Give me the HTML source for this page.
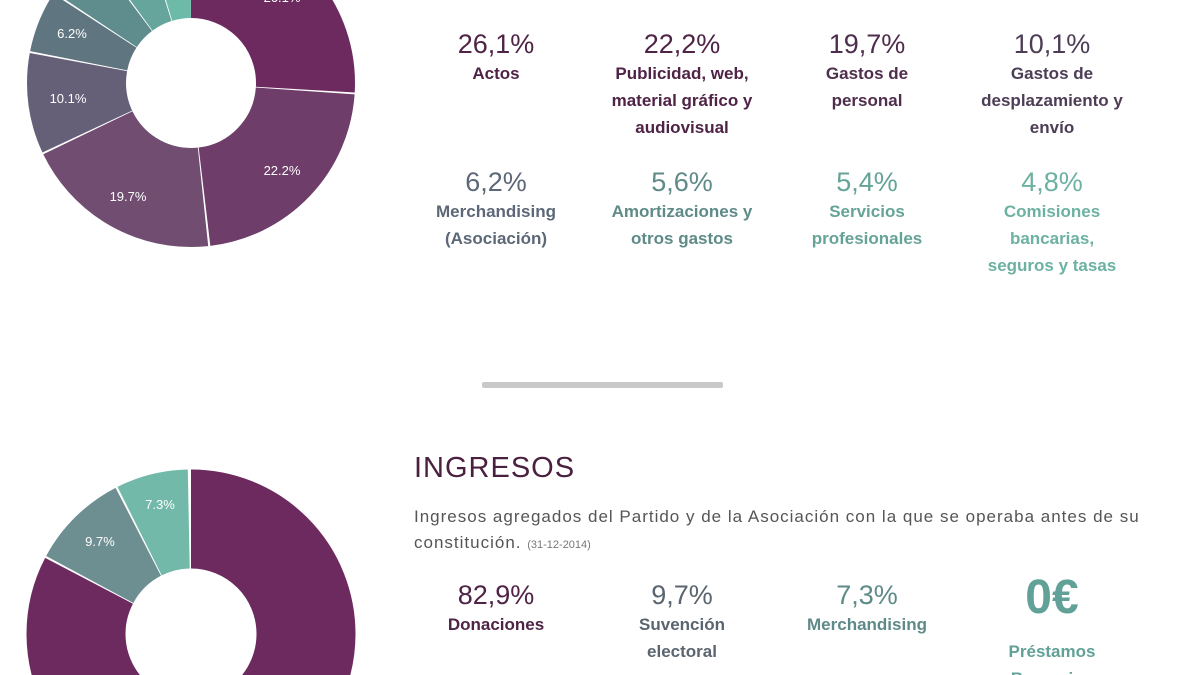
<!DOCTYPE html>
<html><head><meta charset="utf-8"><style>
html,body{margin:0;padding:0;}
body{width:1200px;height:675px;overflow:hidden;background:#fff;position:relative;font-family:"Liberation Sans",sans-serif;}
.c{position:absolute;width:200px;margin-left:-100px;text-align:center;}
.p{font-size:27px;line-height:30px;}
.l{font-size:17px;font-weight:bold;line-height:27px;margin-top:1px;}
.svgw{position:absolute;left:0;top:0;}
</style></head><body>
<svg class="svgw" width="400" height="675" viewBox="0 0 400 675">
<g transform="translate(191,83) rotate(-90)" fill="none" stroke-width="99">
<circle r="114.5" stroke="#6d2a5f" stroke-dasharray="186.5 1000" stroke-dashoffset="0"/>
<circle r="114.5" stroke="#6e3d69" stroke-dasharray="158.2 1000" stroke-dashoffset="-187.8"/>
<circle r="114.5" stroke="#704d71" stroke-dasharray="140.4 1000" stroke-dashoffset="-347.5"/>
<circle r="114.5" stroke="#655f78" stroke-dasharray="71.2 1000" stroke-dashoffset="-489.2"/>
<circle r="114.5" stroke="#5f7580" stroke-dasharray="43.3 1000" stroke-dashoffset="-561.8"/>
<circle r="114.5" stroke="#5f8c8c" stroke-dasharray="39 1000" stroke-dashoffset="-606.4"/>
<circle r="114.5" stroke="#65a59c" stroke-dasharray="37.5 1000" stroke-dashoffset="-646.7"/>
<circle r="114.5" stroke="#6dbaa8" stroke-dasharray="33.5 1000" stroke-dashoffset="-685.5"/>
</g>
<g fill="#fff" font-size="13" font-family="Liberation Sans,sans-serif" text-anchor="middle">
<text x="282" y="175">22.2%</text><text x="128" y="201">19.7%</text>
<text x="68" y="103">10.1%</text><text x="72" y="38">6.2%</text><text x="282" y="2">26.1%</text>
</g>
<g transform="translate(191,634) rotate(-90)" fill="none" stroke-width="99">
<circle r="115" stroke="#6d2a5f" stroke-dasharray="597 1000" stroke-dashoffset="0"/>
<circle r="115" stroke="#6e8f92" stroke-dasharray="69 1000" stroke-dashoffset="-598.5"/>
<circle r="115" stroke="#72b9a9" stroke-dasharray="51 1000" stroke-dashoffset="-669"/>
</g>
<g fill="#fff" font-size="13" font-family="Liberation Sans,sans-serif" text-anchor="middle">
<text x="160" y="509">7.3%</text><text x="100" y="546">9.7%</text>
</g>
</svg>

<div class="c" style="left:496px;top:29px;color:#4f2346"><div class="p">26,1%</div><div class="l">Actos</div></div>
<div class="c" style="left:682px;top:29px;color:#4f2346"><div class="p">22,2%</div><div class="l">Publicidad, web,<br>material gráfico y<br>audiovisual</div></div>
<div class="c" style="left:867px;top:29px;color:#4f2d4c"><div class="p">19,7%</div><div class="l">Gastos de<br>personal</div></div>
<div class="c" style="left:1052px;top:29px;color:#4d3d55"><div class="p">10,1%</div><div class="l">Gastos de<br>desplazamiento y<br>envío</div></div>

<div class="c" style="left:496px;top:167px;color:#5c6877"><div class="p">6,2%</div><div class="l">Merchandising<br>(Asociación)</div></div>
<div class="c" style="left:682px;top:167px;color:#5e8a88"><div class="p">5,6%</div><div class="l">Amortizaciones y<br>otros gastos</div></div>
<div class="c" style="left:867px;top:167px;color:#66a397"><div class="p">5,4%</div><div class="l">Servicios<br>profesionales</div></div>
<div class="c" style="left:1052px;top:167px;color:#6cb1a1"><div class="p">4,8%</div><div class="l">Comisiones<br>bancarias,<br>seguros y tasas</div></div>

<div style="position:absolute;left:482px;top:382px;width:241px;height:6px;background:#c9c9c9;border-radius:2px"></div>

<div style="position:absolute;left:414px;top:452px;font-size:29px;color:#4a2040;letter-spacing:1px">INGRESOS</div>
<div style="position:absolute;left:414px;top:504px;width:780px;font-size:17px;line-height:26px;color:#555;letter-spacing:1px;white-space:nowrap">Ingresos agregados del Partido y de la Asociación con la que se operaba antes de su<br>constitución. <span style="font-size:11px;color:#777;letter-spacing:0">(31-12-2014)</span></div>

<div class="c" style="left:496px;top:580px;color:#4f2346"><div class="p">82,9%</div><div class="l">Donaciones</div></div>
<div class="c" style="left:682px;top:580px;color:#5a6570"><div class="p">9,7%</div><div class="l">Suvención<br>electoral</div></div>
<div class="c" style="left:867px;top:580px;color:#5e8a88"><div class="p">7,3%</div><div class="l">Merchandising</div></div>
<div class="c" style="left:1052px;top:570px;color:#62a197;height:105px;overflow:hidden"><div style="font-size:48px;font-weight:bold;line-height:56px">0€</div><div class="l" style="margin-top:12px">Préstamos<br>Bancarios</div></div>
</body></html>
